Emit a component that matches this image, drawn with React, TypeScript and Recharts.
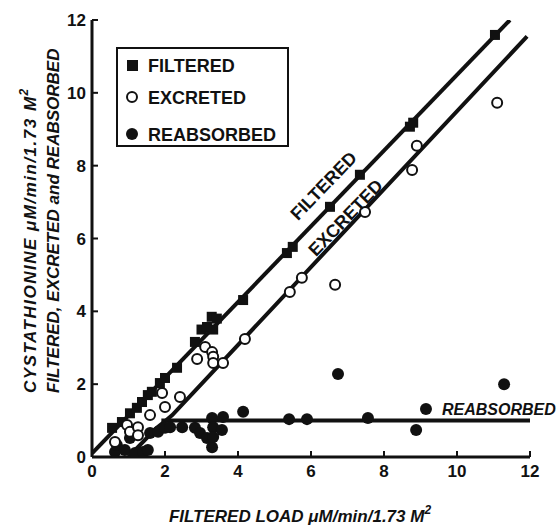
import React from "react";
import { Scatter, ScatterChart, XAxis, YAxis } from "recharts";

type Pt = { x: number; y: number };

const xTicks = [0, 2, 4, 6, 8, 10, 12];
const yTicks = [0, 2, 4, 6, 8, 10, 12];

const seriesNames = ["FILTERED", "EXCRETED", "REABSORBED"];

// filtered cystathionine (squares)
const filtered: Pt[] = [
  { x: 0.55, y: 0.8 }, { x: 0.82, y: 0.96 }, { x: 1.04, y: 1.2 }, { x: 1.23, y: 1.35 },
  { x: 1.37, y: 1.51 }, { x: 1.53, y: 1.7 }, { x: 1.64, y: 1.79 }, { x: 1.86, y: 2.03 },
  { x: 2.0, y: 2.17 }, { x: 2.33, y: 2.45 }, { x: 2.82, y: 3.16 }, { x: 3.0, y: 3.5 },
  { x: 3.15, y: 3.57 }, { x: 3.28, y: 3.85 }, { x: 3.42, y: 3.8 }, { x: 3.32, y: 3.5 },
  { x: 4.14, y: 4.31 }, { x: 5.34, y: 5.6 }, { x: 5.5, y: 5.77 }, { x: 6.52, y: 6.87 },
  { x: 7.34, y: 7.75 }, { x: 8.71, y: 9.07 }, { x: 8.8, y: 9.18 }, { x: 11.04, y: 11.59 },
];

// excreted (open circles)
const excreted: Pt[] = [
  { x: 0.63, y: 0.41 }, { x: 0.96, y: 0.88 }, { x: 1.04, y: 0.69 }, { x: 1.26, y: 0.82 },
  { x: 1.26, y: 0.6 }, { x: 1.59, y: 1.15 }, { x: 2.0, y: 1.37 }, { x: 1.92, y: 1.76 },
  { x: 2.41, y: 1.65 }, { x: 2.88, y: 2.69 }, { x: 3.1, y: 3.02 }, { x: 3.29, y: 2.88 },
  { x: 3.32, y: 2.75 }, { x: 3.32, y: 2.58 }, { x: 3.59, y: 2.58 }, { x: 4.19, y: 3.24 },
  { x: 5.42, y: 4.53 }, { x: 5.75, y: 4.92 }, { x: 6.66, y: 4.73 }, { x: 7.48, y: 6.73 },
  { x: 8.77, y: 7.88 }, { x: 8.9, y: 8.55 }, { x: 11.1, y: 9.73 },
];

// reabsorbed (filled circles)
const reabsorbed: Pt[] = [
  { x: 0.63, y: 0.14 }, { x: 0.68, y: 0.33 }, { x: 1.04, y: 0.52 }, { x: 0.9, y: 0.19 },
  { x: 1.18, y: 0.11 }, { x: 1.4, y: 0.14 }, { x: 1.53, y: 0.19 }, { x: 1.59, y: 0.66 },
  { x: 1.81, y: 0.69 }, { x: 2.0, y: 0.8 }, { x: 2.14, y: 0.82 }, { x: 2.47, y: 0.82 },
  { x: 2.82, y: 0.8 }, { x: 2.96, y: 0.66 }, { x: 3.15, y: 0.52 }, { x: 3.29, y: 0.27 },
  { x: 3.29, y: 1.07 }, { x: 3.32, y: 0.82 }, { x: 3.56, y: 0.74 }, { x: 3.59, y: 1.1 },
  { x: 3.32, y: 0.55 }, { x: 4.14, y: 1.24 }, { x: 5.4, y: 1.04 }, { x: 5.89, y: 1.04 },
  { x: 6.74, y: 2.28 }, { x: 7.56, y: 1.07 }, { x: 8.88, y: 0.74 }, { x: 9.15, y: 1.32 },
  { x: 11.29, y: 2.0 },
];

// fitted lines
const filteredLine: Pt[] = [{ x: 0, y: 0.1 }, { x: 11.45, y: 12 }];
const excretedLine: Pt[] = [
  { x: 1.0, y: 0 }, { x: 1.75, y: 0.78 }, { x: 2.0, y: 0.98 }, { x: 2.2, y: 1.15 }, { x: 11.92, y: 11.55 },
];
const reabsorbedLine: Pt[] = [{ x: 1.9, y: 1.0 }, { x: 12, y: 1.0 }];

const INK = "#111";
const FONT = "'Liberation Sans', Arial, sans-serif";

function Square(props: any) {
  const { cx, cy } = props;
  return <rect x={cx - 5} y={cy - 5} width={10} height={10} fill={INK} />;
}

function OpenDot(props: any) {
  const { cx, cy } = props;
  return <circle cx={cx} cy={cy} r={5} fill="#fff" stroke={INK} strokeWidth={2} />;
}

function FilledDot(props: any) {
  const { cx, cy } = props;
  return <circle cx={cx} cy={cy} r={6} fill={INK} />;
}

function NoMark() {
  return <g />;
}

const tickStyle = { fontSize: 17, fontWeight: 700, fill: INK, fontFamily: FONT };

function Labels() {
  const titleStyle = {
    fontFamily: FONT,
    fontWeight: 700,
    fontStyle: "italic" as const,
    fontSize: 17,
    fill: INK,
  };
  return (
    <svg
      width={557}
      height={527}
      style={{ position: "absolute", left: 0, top: 0, pointerEvents: "none" }}
    >
      {/* legend */}
      <rect x={117} y={48} width={171} height={98} fill="none" stroke={INK} strokeWidth={2} />
      <rect x={127} y={60} width={11} height={11} fill={INK} />
      <circle cx={132} cy={97} r={5} fill="#fff" stroke={INK} strokeWidth={2} />
      <circle cx={132} cy={134} r={6} fill={INK} />
      {seriesNames.map((n, i) => (
        <text
          key={n}
          x={148}
          y={[72, 104, 141][i]}
          fontFamily={FONT}
          fontSize={18}
          fontWeight={700}
          fill={INK}
        >
          {n}
        </text>
      ))}

      {/* line labels */}
      <text
        x={328}
        y={190}
        transform="rotate(-46 328 190)"
        textAnchor="middle"
        fontFamily={FONT}
        fontSize={18}
        fontWeight={700}
        fill={INK}
      >
        FILTERED
      </text>
      <text
        x={350}
        y={222}
        transform="rotate(-46 350 222)"
        textAnchor="middle"
        fontFamily={FONT}
        fontSize={18}
        fontWeight={700}
        fill={INK}
      >
        EXCRETED
      </text>
      <text x={442} y={415} {...titleStyle} fontSize={16}>
        REABSORBED
      </text>

      {/* axis titles */}
      <text x={300} y={522} textAnchor="middle" {...titleStyle}>
        FILTERED LOAD μM/min/1.73 M
        <tspan fontSize={12} dy={-8}>2</tspan>
      </text>
      <text x={36} y={393} transform="rotate(-90 36 393)" {...titleStyle} letterSpacing={1.5}>
        CYSTATHIONINE μM/min/1.73 M
        <tspan fontSize={12} dy={-8}>2</tspan>
      </text>
      <text x={59} y={393} transform="rotate(-90 59 393)" {...titleStyle}>
        FILTERED, EXCRETED and REABSORBED
      </text>
    </svg>
  );
}

export default function App() {
  return (
    <div style={{ position: "absolute", left: 0, top: 0, width: 557, height: 527, background: "#fff" }}>
      <ScatterChart width={557} height={527} margin={{ top: 20, right: 27, bottom: 0, left: 0 }}>
        <XAxis
          type="number"
          dataKey="x"
          domain={[0, 12]}
          ticks={xTicks}
          allowDataOverflow
          height={70}
          axisLine={{ stroke: INK, strokeWidth: 3 }}
          tickLine={{ stroke: INK, strokeWidth: 2 }}
          tickSize={-6}
          tickMargin={14}
          tick={tickStyle}
        />
        <YAxis
          type="number"
          dataKey="y"
          domain={[0, 12]}
          ticks={yTicks}
          allowDataOverflow
          width={92}
          axisLine={{ stroke: INK, strokeWidth: 3 }}
          tickLine={{ stroke: INK, strokeWidth: 2 }}
          tickSize={-6}
          tickMargin={12}
          tick={tickStyle}
        />
        <Scatter data={filteredLine} line={{ stroke: INK, strokeWidth: 4 }} shape={NoMark} isAnimationActive={false} />
        <Scatter data={excretedLine} line={{ stroke: INK, strokeWidth: 4 }} shape={NoMark} isAnimationActive={false} />
        <Scatter data={reabsorbedLine} line={{ stroke: INK, strokeWidth: 4 }} shape={NoMark} isAnimationActive={false} />
        <Scatter name="REABSORBED" data={reabsorbed} shape={FilledDot} isAnimationActive={false} />
        <Scatter name="FILTERED" data={filtered} shape={Square} isAnimationActive={false} />
        <Scatter name="EXCRETED" data={excreted} shape={OpenDot} isAnimationActive={false} />
      </ScatterChart>
      <Labels />
    </div>
  );
}
